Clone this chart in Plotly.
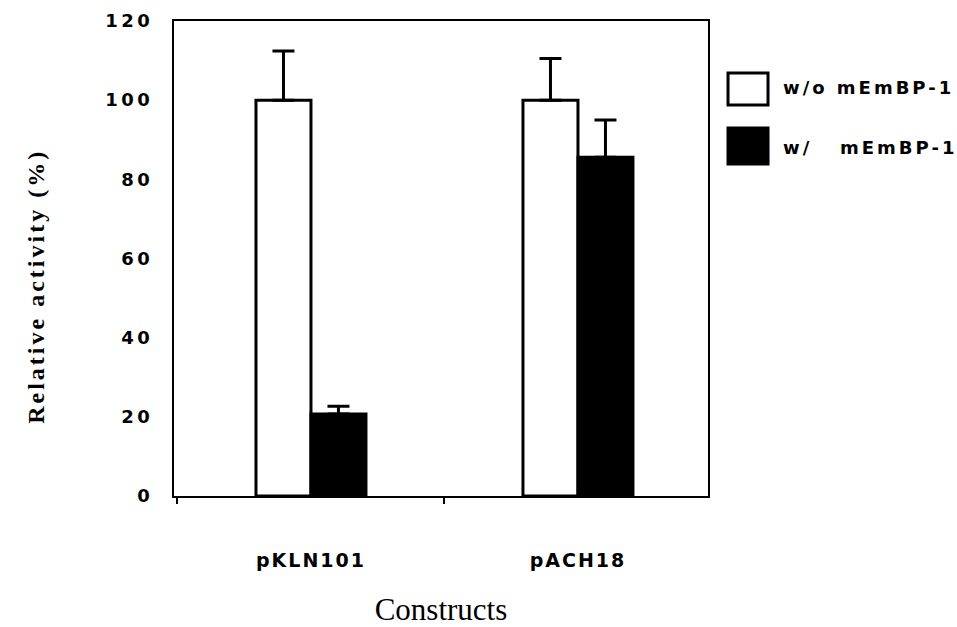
import plotly.graph_objects as go

# Luciferase reporter activity per construct, with and without mEmBP-1
constructs = ["pKLN101", "pACH18"]
without_mEmBP1 = [100.0, 100.0]
without_mEmBP1_err = [12.4, 10.5]
with_mEmBP1 = [20.7, 85.6]
with_mEmBP1_err = [2.0, 9.4]

y_ticks = [0, 20, 40, 60, 80, 100, 120]
legend_labels = ["w/o mEmBP-1", "w/\u00a0\u00a0\u00a0mEmBP-1"]

SANS = "DejaVu Sans"
SERIF = "Liberation Serif"

fig = go.Figure()

fig.add_trace(go.Bar(
    x=constructs, y=without_mEmBP1, name=legend_labels[0],
    marker=dict(color="white", line=dict(color="black", width=3)),
    error_y=dict(type="data", symmetric=False, array=without_mEmBP1_err,
                 arrayminus=[0, 0], color="black", thickness=3, width=11),
    showlegend=False,
))
fig.add_trace(go.Bar(
    x=constructs, y=with_mEmBP1, name=legend_labels[1],
    marker=dict(color="black", line=dict(color="black", width=3)),
    error_y=dict(type="data", symmetric=False, array=with_mEmBP1_err,
                 arrayminus=[0, 0], color="black", thickness=3, width=11),
    showlegend=False,
))

# Hand-drawn legend boxes to the right of the frame
legend_boxes = [
    dict(fill="white", y0=0.8232, y1=0.8905, ty=0.859),
    dict(fill="black", y0=0.6989, y1=0.7747, ty=0.7347),
]
for box, label in zip(legend_boxes, legend_labels):
    fig.add_shape(type="rect", xref="paper", yref="paper",
                  x0=1.0375, x1=1.1124, y0=box["y0"], y1=box["y1"],
                  fillcolor=box["fill"], line=dict(color="black", width=3))
    fig.add_annotation(xref="paper", yref="paper", x=1.136, y=box["ty"],
                       text=label, showarrow=False, xanchor="left",
                       yanchor="middle", align="left",
                       font=dict(family=SANS, size=18, color="black",
                                 weight="bold"))

# Y-axis title
fig.add_annotation(xref="paper", yref="paper", x=-0.258, y=0.442,
                   text="Relative activity (%)", showarrow=False,
                   textangle=-90, xanchor="center", yanchor="middle",
                   font=dict(family=SERIF, size=24, color="black",
                             weight="bold"))

fig.update_layout(
    width=957, height=627,
    margin=dict(l=174, r=249, t=21, b=131, autoexpand=False),
    paper_bgcolor="white", plot_bgcolor="white",
    barmode="group", bargap=0.588, bargroupgap=0,
    xaxis=dict(
        type="category", range=[-0.513, 1.487],
        showline=True, linecolor="black", linewidth=2, mirror=True,
        ticks="outside", tickson="boundaries", ticklen=6, tickwidth=1.5,
        tickcolor="black", showgrid=False, zeroline=False,
        ticklabelstandoff=46,
        tickfont=dict(family=SANS, size=19, color="black", weight="bold"),
        title=dict(text="Constructs", standoff=39,
                   font=dict(family=SERIF, size=31, color="black")),
    ),
    yaxis=dict(
        range=[0, 120], tickvals=y_ticks, ticktext=[str(v) for v in y_ticks],
        showline=True, linecolor="black", linewidth=2, mirror=True,
        ticks="", showgrid=False, zeroline=False,
        ticklabelstandoff=15,
        tickfont=dict(family=SANS, size=18, color="black", weight="bold"),
    ),
)

spacing_css = (
    "var s=document.createElement('style');"
    "s.textContent='.ytick text{letter-spacing:3.5px}"
    " .xtick text{letter-spacing:2px}"
    " .annotation[data-index=\"0\"] .annotation-text,"
    " .annotation[data-index=\"1\"] .annotation-text{letter-spacing:3px}"
    " .annotation[data-index=\"2\"] .annotation-text{letter-spacing:3px}';"
    "document.head.appendChild(s);"
)

fig.write_html("out.html", post_script=spacing_css)
